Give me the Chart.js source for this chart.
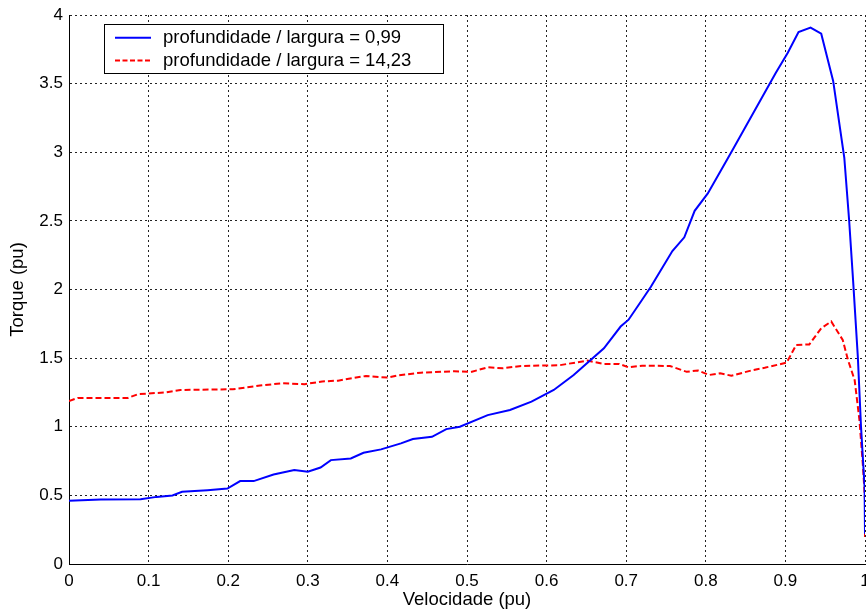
<!DOCTYPE html>
<html>
<head>
<meta charset="utf-8">
<script src="https://cdn.jsdelivr.net/npm/chart.js@4/dist/chart.umd.min.js"></script>
<style>
  html, body { margin: 0; padding: 0; background: #fff; }
  #wrap { width: 866px; height: 615px; }
</style>
</head>
<body>
<div id="wrap"><canvas id="c" width="866" height="615"></canvas></div>
<script>
// ---- Data ----
const label1 = 'profundidade / largura = 0,99';
const label2 = 'profundidade / largura = 14,23';

const vel1 = [0, 0.04, 0.09, 0.11, 0.13, 0.142, 0.174, 0.199, 0.215, 0.232, 0.257, 0.283, 0.30, 0.316, 0.329, 0.354, 0.37, 0.392, 0.417, 0.432, 0.456, 0.474, 0.491, 0.526, 0.554, 0.581, 0.609, 0.634, 0.672, 0.693, 0.703, 0.72, 0.731, 0.758, 0.773, 0.786, 0.8025, 0.832, 0.888, 0.903, 0.9165, 0.9316, 0.945, 0.96, 0.974, 0.98, 0.985, 0.991, 0.995, 0.9995, 1.0];
const torque1 = [0.46, 0.47, 0.472, 0.489, 0.499, 0.526, 0.538, 0.55, 0.604, 0.604, 0.652, 0.684, 0.672, 0.703, 0.757, 0.769, 0.81, 0.835, 0.879, 0.91, 0.927, 0.983, 1.0, 1.085, 1.122, 1.183, 1.268, 1.377, 1.572, 1.73, 1.78, 1.925, 2.02, 2.28, 2.38, 2.573, 2.70, 3.0, 3.58, 3.725, 3.876, 3.908, 3.864, 3.52, 2.96, 2.51, 2.07, 1.51, 1.0, 0.56, 0.22];

const vel2 = [0, 0.011, 0.074, 0.087, 0.122, 0.14, 0.206, 0.24, 0.268, 0.296, 0.318, 0.338, 0.373, 0.40, 0.414, 0.442, 0.484, 0.505, 0.526, 0.545, 0.568, 0.616, 0.651, 0.672, 0.691, 0.703, 0.72, 0.755, 0.776, 0.79, 0.804, 0.818, 0.832, 0.86, 0.874, 0.9015, 0.9135, 0.930, 0.945, 0.9576, 0.972, 0.9786, 0.987, 0.993, 0.9975, 1.0, 1.0];
const torque2 = [1.188, 1.21, 1.21, 1.238, 1.25, 1.268, 1.273, 1.30, 1.317, 1.31, 1.33, 1.336, 1.37, 1.358, 1.375, 1.394, 1.404, 1.399, 1.433, 1.426, 1.443, 1.448, 1.482, 1.458, 1.458, 1.433, 1.445, 1.443, 1.40, 1.41, 1.377, 1.39, 1.372, 1.414, 1.43, 1.467, 1.596, 1.60, 1.718, 1.767, 1.633, 1.487, 1.34, 1.05, 0.708, 0.465, 0.197];

const xTickValues = [0, 0.1, 0.2, 0.3, 0.4, 0.5, 0.6, 0.7, 0.8, 0.9, 1];
const xTickLabels = ['0', '0.1', '0.2', '0.3', '0.4', '0.5', '0.6', '0.7', '0.8', '0.9', '1'];
const yTickValues = [0, 0.5, 1, 1.5, 2, 2.5, 3, 3.5, 4];
const yTickLabels = ['0', '0.5', '1', '1.5', '2', '2.5', '3', '3.5', '4'];

const xTitle = 'Velocidade (pu)';
const yTitle = 'Torque (pu)';

// ---- Chart ----
const FONT = '"Liberation Sans", Arial, Helvetica, sans-serif';

function toPoints(xs, ys) { return xs.map((x, i) => ({ x: x, y: ys[i] })); }

const legendPlugin = {
  id: 'boxLegend',
  afterDraw(chart) {
    const ctx = chart.ctx;
    const ds = chart.data.datasets;
    ctx.save();
    const bx = 104.5, by = 24.5, bw = 339, bh = 49;
    ctx.fillStyle = '#fff';
    ctx.fillRect(bx, by, bw, bh);
    ctx.strokeStyle = '#000';
    ctx.lineWidth = 1;
    ctx.setLineDash([]);
    ctx.strokeRect(bx, by, bw, bh);
    const rows = [37.7, 60.5];
    ds.forEach((d, i) => {
      const y = rows[i];
      ctx.beginPath();
      ctx.strokeStyle = d.borderColor;
      ctx.lineWidth = 2;
      ctx.setLineDash(i === 1 ? [5, 2.5] : []);
      ctx.moveTo(115, y);
      ctx.lineTo(151, y);
      ctx.stroke();
      ctx.setLineDash([]);
      ctx.fillStyle = '#000';
      ctx.font = '18.5px ' + FONT;
      ctx.textBaseline = 'middle';
      ctx.textAlign = 'left';
      ctx.fillText(d.label, 163, y);
    });
    ctx.restore();
  }
};

new Chart(document.getElementById('c'), {
  type: 'line',
  data: {
    datasets: [
      {
        label: label1,
        data: toPoints(vel1, torque1),
        borderColor: '#0000ff',
        borderWidth: 2,
        pointRadius: 0,
        tension: 0,
        fill: false
      },
      {
        label: label2,
        data: toPoints(vel2, torque2),
        borderColor: '#ff0000',
        borderWidth: 2,
        borderDash: [6, 3],
        pointRadius: 0,
        tension: 0,
        fill: false
      }
    ]
  },
  options: {
    responsive: false,
    animation: false,
    devicePixelRatio: 1,
    layout: { padding: { left: 0, right: 1, top: 15, bottom: 0 } },
    plugins: {
      legend: { display: false },
      tooltip: { enabled: false }
    },
    scales: {
      x: {
        type: 'linear',
        min: 0,
        max: 1,
        afterBuildTicks(scale) { scale.ticks = xTickValues.map(v => ({ value: v })); },
        afterFit(scale) { scale.height = 51; scale.paddingLeft = 0; scale.paddingRight = 0; },
        ticks: {
          color: '#000',
          font: { family: FONT, size: 17 },
          padding: 7,
          maxRotation: 0,
          autoSkip: false,
          callback(value) { const i = xTickValues.indexOf(value); return i >= 0 ? xTickLabels[i] : ''; }
        },
        grid: {
          color: '#222',
          lineWidth: 1,
          drawTicks: false
        },
        border: { display: true, color: '#000', width: 1, dash: [2, 3] },
        title: {
          display: true,
          text: xTitle,
          color: '#000',
          font: { family: FONT, size: 18.5 },
          padding: { top: 0, bottom: 4 }
        }
      },
      y: {
        type: 'linear',
        min: 0,
        max: 4,
        afterBuildTicks(scale) { scale.ticks = yTickValues.map(v => ({ value: v })); },
        afterFit(scale) { scale.width = 69; scale.paddingTop = 0; scale.paddingBottom = 0; },
        ticks: {
          color: '#000',
          font: { family: FONT, size: 17 },
          padding: 6,
          autoSkip: false,
          callback(value) { const i = yTickValues.indexOf(value); return i >= 0 ? yTickLabels[i] : ''; }
        },
        grid: {
          color: '#222',
          lineWidth: 1,
          drawTicks: false
        },
        border: { display: true, color: '#000', width: 1, dash: [2, 3] },
        title: {
          display: true,
          text: yTitle,
          color: '#000',
          font: { family: FONT, size: 18.5 },
          padding: { top: 7, bottom: 0 }
        }
      }
    }
  },
  plugins: [legendPlugin]
});
</script>
</body>
</html>
